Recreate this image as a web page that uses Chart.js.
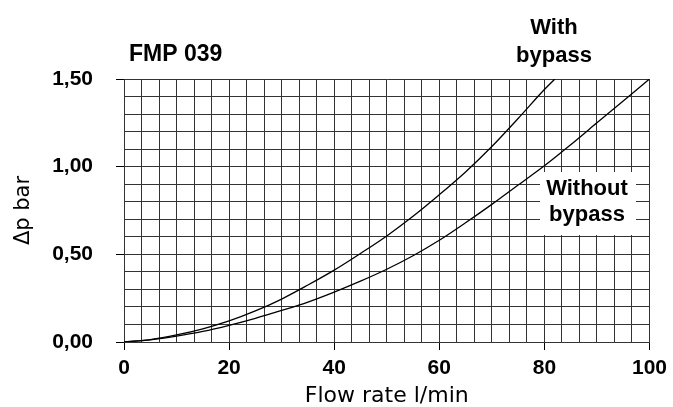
<!DOCTYPE html>
<html>
<head>
<meta charset="utf-8">
<script src="https://cdn.jsdelivr.net/npm/chart.js@4.4.1/dist/chart.umd.min.js"></script>
<style>
html,body{margin:0;padding:0;background:#fff;}
#wrap{width:673px;height:407px;position:relative;}
</style>
</head>
<body>
<div id="wrap"><canvas id="c" width="673" height="407"></canvas></div>
<script>
// Data
const flowWith = [0, 5, 10, 15, 20, 25, 30, 35, 40, 45, 50, 55, 60, 65, 70, 75, 80, 82];
const dpWith   = [0, 0.014, 0.04, 0.075, 0.12, 0.177, 0.245, 0.325, 0.41, 0.505, 0.605, 0.717, 0.84, 0.97, 1.115, 1.275, 1.44, 1.5];
const flowWithout = [0, 5, 10, 15, 20, 25, 30, 35, 40, 45, 50, 55, 60, 65, 70, 75, 80, 85, 90, 95, 100];
const dpWithout   = [0, 0.012, 0.033, 0.06, 0.095, 0.135, 0.18, 0.228, 0.285, 0.347, 0.415, 0.492, 0.58, 0.68, 0.785, 0.895, 1.005, 1.125, 1.25, 1.375, 1.5];
const xLabels = [0, 20, 40, 60, 80, 100];
const yLabels = ["0,00", "0,50", "1,00", "1,50"];
const yLabelValues = [0, 0.5, 1.0, 1.5];
const chartTitle = "FMP 039";
const labelWith = ["With", "bypass"];
const labelWithout = ["Without", "bypass"];
const xTitle = "Flow rate l/min";
const yTitle = "\u0394p bar";

const xGrid = []; for (let i = 0; i <= 30; i++) xGrid.push(i * 10 / 3);
const yGrid = []; for (let i = 0; i <= 15; i++) yGrid.push(i / 10);

function isMajorX(v){ return xLabels.some(l => Math.abs(l - v) < 1e-6); }
function yLabelFor(v){ const i = yLabelValues.findIndex(l => Math.abs(l - v) < 1e-6); return i >= 0 ? yLabels[i] : ''; }

const annot = {
  id: 'annot',
  afterDatasetsDraw(chart){
    const ctx = chart.ctx;
    ctx.save();
    // white box behind "Without bypass"
    ctx.fillStyle = '#fff';
    ctx.fillRect(540, 172, 96, 63);
    ctx.fillStyle = '#000';
    ctx.textBaseline = 'alphabetic';
    ctx.textAlign = 'left';
    ctx.font = 'bold 23px "Liberation Sans", Arial, sans-serif';
    ctx.fillText(chartTitle, 129, 61);
    ctx.font = 'bold 22px "Liberation Sans", Arial, sans-serif';
    ctx.textAlign = 'center';
    ctx.fillText(labelWith[0], 554, 34);
    ctx.fillText(labelWith[1], 554, 62);
    ctx.fillText(labelWithout[0], 587, 195);
    ctx.fillText(labelWithout[1], 587, 221);
    ctx.restore();
  }
};

new Chart(document.getElementById('c'), {
  type: 'line',
  data: {
    datasets: [
      { label: 'With bypass', data: flowWith.map((x,i)=>({x, y: dpWith[i]})), borderColor:'#000', borderWidth:1.3, pointRadius:0, cubicInterpolationMode:'monotone', fill:false },
      { label: 'Without bypass', data: flowWithout.map((x,i)=>({x, y: dpWithout[i]})), borderColor:'#000', borderWidth:1.3, pointRadius:0, cubicInterpolationMode:'monotone', fill:false }
    ]
  },
  options: {
    responsive: false,
    animation: false,
    devicePixelRatio: 1,
    layout: { padding: { top: 79, right: 22, left: 0, bottom: 0 } },
    plugins: { legend: { display: false }, tooltip: { enabled: false } },
    scales: {
      x: {
        type: 'linear', min: 0, max: 100,
        afterBuildTicks(s){ s.ticks = xGrid.map(v => ({value: v})); },
        afterFit(s){ s.height = 65; },
        ticks: { autoSkip: false, maxRotation: 0, padding: 6, color: '#000',
          font: { family: '"Liberation Sans", Arial, sans-serif', size: 21, weight: 'bold' },
          callback(v){ return isMajorX(v) ? String(Math.round(v)) : ''; } },
        grid: { color: '#333', lineWidth: 1, tickLength: 8,
          tickColor: (c) => (c.tick && isMajorX(c.tick.value)) ? '#000' : 'rgba(0,0,0,0)' },
        border: { display: true, color: '#333', width: 1 },
        title: { display: true, text: xTitle, color: '#000', padding: 0,
          font: { family: '"DejaVu Sans", sans-serif', size: 22, lineHeight: 1 } }
      },
      y: {
        type: 'linear', min: 0, max: 1.5,
        afterBuildTicks(s){ s.ticks = yGrid.map(v => ({value: v})); },
        afterFit(s){ s.width = 124; },
        ticks: { autoSkip: false, padding: 23, color: '#000',
          font: { family: '"Liberation Sans", Arial, sans-serif', size: 21, weight: 'bold' },
          callback(v){ return yLabelFor(v); } },
        grid: { color: '#333', lineWidth: 1, tickLength: 8,
          tickColor: (c) => (c.tick && yLabelFor(c.tick.value) !== '') ? '#000' : 'rgba(0,0,0,0)' },
        border: { display: true, color: '#333', width: 1 },
        title: { display: true, text: yTitle, color: '#000', padding: 13,
          font: { family: '"DejaVu Sans", sans-serif', size: 21, lineHeight: 1 } }
      }
    }
  },
  plugins: [annot]
});
</script>
</body>
</html>
